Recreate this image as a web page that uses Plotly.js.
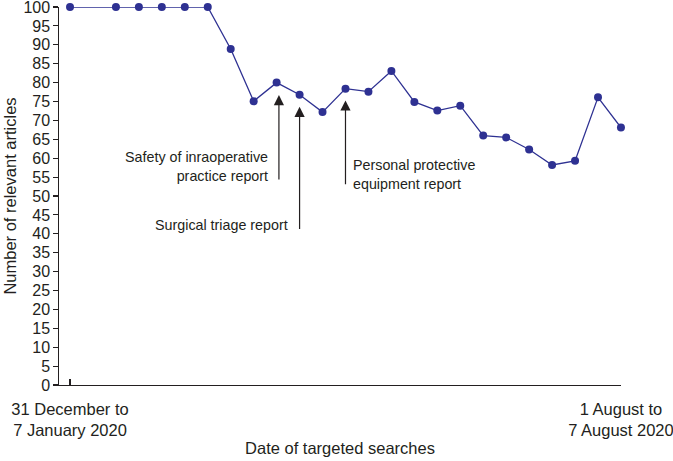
<!DOCTYPE html>
<html>
<head>
<meta charset="utf-8">
<script src="https://cdn.plot.ly/plotly-3.0.1.min.js"></script>
<style>
  html, body { margin: 0; padding: 0; background: #fff; }
  #chart { width: 673px; height: 461px; }
</style>
</head>
<body>
<div id="chart"></div>
<script>
// Weekly targeted searches (index 0 = 31 Dec–7 Jan 2020, index 24 = 1–7 Aug 2020)
var weekIndex = [0, 2, 3, 4, 5, 6, 7, 8, 9, 10, 11, 12, 13, 14, 15, 16, 17, 18, 19, 20, 21, 22, 23, 24];
var relevantArticles = [100, 100, 100, 100, 100, 100, 88.9, 75.1, 80.0, 76.8, 72.2, 78.4, 77.6, 83.1, 74.9, 72.6, 73.9, 66.0, 65.5, 62.3, 58.2, 59.3, 76.1, 68.1];

var xTickVals = [0, 24];
var xTickText = ['31 December to<br>7 January 2020', '1 August to<br>7 August 2020'];
var yTickVals = [0, 5, 10, 15, 20, 25, 30, 35, 40, 45, 50, 55, 60, 65, 70, 75, 80, 85, 90, 95, 100];

// Report annotations: label text, arrow position (week index), arrow tip and tail values
var reportLabels = ['Safety of inraoperative<br>practice report', 'Surgical triage report', 'Personal protective<br>equipment report'];
var reportArrowX = [9.1, 10, 12];
var reportArrowTip = [76.7, 73.6, 75.3];
var reportArrowTail = [54.0, 40.9, 52.7];
var reportLabelX = [8.70, 9.60, 12.26];
var reportLabelY = [57.7, 42.4, 55.6];
var reportLabelSide = ['right', 'right', 'left'];

var textColor = '#231f20';
var font = 'Liberation Sans, Arial, Helvetica, sans-serif';

var trace = {
  x: weekIndex,
  y: relevantArticles,
  type: 'scatter',
  mode: 'lines+markers',
  line: { color: '#2e3192', width: 1.3 },
  marker: { color: '#2e3192', size: 8 },
  cliponaxis: false,
  hoverinfo: 'x+y'
};

var annotations = [];
for (var i = 0; i < reportLabels.length; i++) {
  annotations.push({
    x: reportArrowX[i], y: reportArrowTip[i], xref: 'x', yref: 'y',
    ax: reportArrowX[i], ay: reportArrowTail[i], axref: 'x', ayref: 'y',
    text: '', showarrow: true, arrowhead: 2, arrowsize: 1.7, arrowwidth: 1.2,
    arrowcolor: '#231f20', standoff: 0, startstandoff: 0
  });
  annotations.push({
    x: reportLabelX[i], y: reportLabelY[i], xref: 'x', yref: 'y',
    text: reportLabels[i], showarrow: false,
    xanchor: reportLabelSide[i], yanchor: 'middle', align: reportLabelSide[i],
    font: { family: font, size: 14.3, color: textColor }
  });
}

var layout = {
  width: 673, height: 461,
  margin: { l: 59, r: 52, t: 7, b: 76 },
  paper_bgcolor: '#ffffff', plot_bgcolor: '#ffffff',
  showlegend: false,
  font: { family: font, size: 16.5, color: textColor },
  xaxis: {
    range: [-0.48, 24.002],
    tickmode: 'array', tickvals: xTickVals, ticktext: xTickText,
    ticks: 'inside', ticklen: 6, tickwidth: 1.1, tickcolor: '#231f20',
    ticklabelstandoff: 9, ticklabeloverflow: 'allow',
    showline: true, linecolor: '#231f20', linewidth: 1.2,
    showgrid: false, zeroline: false,
    automargin: 'height',
    tickfont: { family: font, size: 16.5, color: textColor },
    title: { text: 'Date of targeted searches', standoff: 4, font: { family: font, size: 16.5, color: textColor } }
  },
  yaxis: {
    range: [0, 100.005],
    tickmode: 'array', tickvals: yTickVals,
    ticks: 'outside', ticklen: 4.5, tickwidth: 1.1, tickcolor: '#231f20',
    ticklabeloverflow: 'allow',
    showline: true, linecolor: '#231f20', linewidth: 1.2,
    showgrid: false, zeroline: false,
    tickfont: { family: font, size: 16, color: textColor },
    title: { text: 'Number of relevant articles', font: { family: font, size: 16.5, color: textColor } }
  },
  annotations: annotations
};

Plotly.newPlot('chart', [trace], layout, { displayModeBar: false, staticPlot: true });
</script>
</body>
</html>
